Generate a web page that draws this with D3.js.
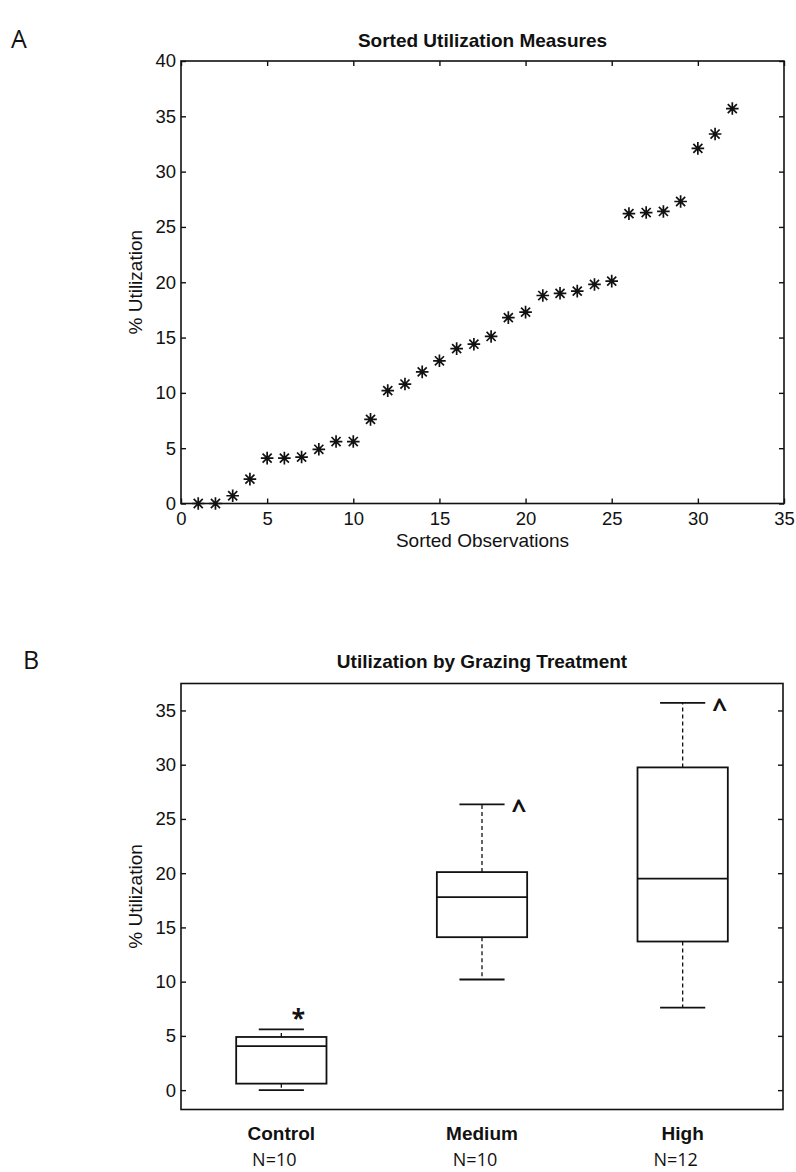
<!DOCTYPE html>
<html>
<head>
<meta charset="utf-8">
<script src="https://cdn.jsdelivr.net/npm/d3@7"></script>
<style>
  body { margin: 0; background: #fff; }
  text { font-family: "Liberation Sans", Arial, sans-serif; fill: #111; }
</style>
</head>
<body>
<div id="chart"></div>
<script>
// panel A: sorted utilization values (observation i+1)
const sortedUtil = [0, 0, 0.7, 2.2, 4.1, 4.1, 4.2, 4.9, 5.6, 5.6, 7.6, 10.2, 10.8, 11.9, 12.9, 14.0,
                    14.4, 15.1, 16.8, 17.3, 18.8, 19.0, 19.2, 19.8, 20.1, 26.2, 26.3, 26.4, 27.3, 32.1, 33.4, 35.7];
const xTicksA = [0, 5, 10, 15, 20, 25, 30, 35];
const yTicksA = [0, 5, 10, 15, 20, 25, 30, 35, 40];

// panel B: box plot by grazing treatment
const groups = ["Control", "Medium", "High"];
const groupN = ["N=10", "N=10", "N=12"];
const whiskerLow = [0, 10.2, 7.6];
const q1 = [0.6, 14.1, 13.7];
const median = [4.05, 17.8, 19.5];
const q3 = [4.9, 20.1, 29.75];
const whiskerHigh = [5.6, 26.35, 35.7];
const sigMarks = ["*", "^", "^"];
const yTicksB = [0, 5, 10, 15, 20, 25, 30, 35];

const W = 796, H = 1172;
const svg = d3.select("#chart").append("svg")
    .attr("width", W)
    .attr("height", H);

const plotL = 181, plotR = 784;

// ---------- Panel A ----------
const xA = d3.scaleLinear().domain([0, 35]).range([plotL, plotR]);
const yA = d3.scaleLinear().domain([0, 40]).range([503.5, 61]);

const gA = svg.append("g");

gA.append("g")
    .attr("transform", `translate(0,${yA(0)})`)
    .call(d3.axisBottom(xA).tickValues(xTicksA).tickSize(-5).tickPadding(8))
    .call(g => g.select(".domain").remove());
gA.append("g")
    .attr("transform", `translate(0,${yA(40)})`)
    .call(d3.axisTop(xA).tickValues(xTicksA).tickSize(-5).tickFormat(""))
    .call(g => g.select(".domain").remove());
gA.append("g")
    .attr("transform", `translate(${plotL},0)`)
    .call(d3.axisLeft(yA).tickValues(yTicksA).tickSize(-5).tickPadding(5))
    .call(g => g.select(".domain").remove());
gA.append("g")
    .attr("transform", `translate(${plotR},0)`)
    .call(d3.axisRight(yA).tickValues(yTicksA).tickSize(-5).tickFormat(""))
    .call(g => g.select(".domain").remove());

gA.append("rect")
    .attr("x", xA(0)).attr("y", yA(40))
    .attr("width", xA(35) - xA(0)).attr("height", yA(0) - yA(40))
    .attr("fill", "none").attr("stroke", "#111").attr("stroke-width", 1.6);

const star = r => `M${-r},0L${r},0M0,${-r}L0,${r}M${-r * 0.72},${-r * 0.72}L${r * 0.72},${r * 0.72}M${-r * 0.72},${r * 0.72}L${r * 0.72},${-r * 0.72}`;

gA.selectAll("path.pt")
    .data(sortedUtil)
    .enter()
    .append("path")
    .attr("class", "pt")
    .attr("transform", (d, i) => `translate(${xA(i + 1)},${yA(d)})`)
    .attr("d", star(6.3))
    .attr("stroke", "#111")
    .attr("stroke-width", 1.7)
    .attr("fill", "none");

gA.append("text")
    .attr("x", (plotL + plotR) / 2).attr("y", 47)
    .attr("text-anchor", "middle")
    .style("font-weight", "bold").style("font-size", "19px")
    .text("Sorted Utilization Measures");

gA.append("text")
    .attr("x", (plotL + plotR) / 2).attr("y", 547)
    .attr("text-anchor", "middle")
    .style("font-size", "19px")
    .text("Sorted Observations");

gA.append("text")
    .attr("transform", `translate(142,${(yA(0) + yA(40)) / 2}) rotate(-90)`)
    .attr("text-anchor", "middle")
    .style("font-size", "19px")
    .text("% Utilization");

svg.append("text")
    .attr("x", 11).attr("y", 48)
    .style("font-family", "'Open Sans', sans-serif").style("font-size", "25px")
    .text("A");

// ---------- Panel B ----------
const xB = d3.scaleLinear().domain([0.5, 3.5]).range([plotL, 783]);
const yB = d3.scaleLinear().domain([-1.785, 37.485]).range([1109.5, 683.5]);
const boxW = 0.45, capW = 0.225;

const gB = svg.append("g");

gB.append("g")
    .attr("transform", `translate(${plotL},0)`)
    .call(d3.axisLeft(yB).tickValues(yTicksB).tickSize(-5).tickPadding(5))
    .call(g => g.select(".domain").remove());
gB.append("g")
    .attr("transform", `translate(783,0)`)
    .call(d3.axisRight(yB).tickValues(yTicksB).tickSize(-5).tickFormat(""))
    .call(g => g.select(".domain").remove());

gB.append("rect")
    .attr("x", xB(0.5)).attr("y", yB(37.485))
    .attr("width", xB(3.5) - xB(0.5)).attr("height", yB(-1.785) - yB(37.485))
    .attr("fill", "none").attr("stroke", "#111").attr("stroke-width", 1.6);

const boxes = groups.map((g, i) => ({
    name: g, n: groupN[i], pos: i + 1,
    lo: whiskerLow[i], q1: q1[i], med: median[i], q3: q3[i], hi: whiskerHigh[i], mark: sigMarks[i]
}));

const bx = gB.selectAll("g.box").data(boxes).enter().append("g").attr("class", "box");

// dashed whiskers
bx.append("line")
    .attr("x1", d => xB(d.pos)).attr("x2", d => xB(d.pos))
    .attr("y1", d => yB(d.q3)).attr("y2", d => yB(d.hi))
    .attr("stroke", "#111").attr("stroke-width", 1.3).attr("stroke-dasharray", "4 3");
bx.append("line")
    .attr("x1", d => xB(d.pos)).attr("x2", d => xB(d.pos))
    .attr("y1", d => yB(d.q1)).attr("y2", d => yB(d.lo))
    .attr("stroke", "#111").attr("stroke-width", 1.3).attr("stroke-dasharray", "4 3");
// caps
bx.append("line")
    .attr("x1", d => xB(d.pos - capW / 2)).attr("x2", d => xB(d.pos + capW / 2))
    .attr("y1", d => yB(d.hi)).attr("y2", d => yB(d.hi))
    .attr("stroke", "#111").attr("stroke-width", 1.8);
bx.append("line")
    .attr("x1", d => xB(d.pos - capW / 2)).attr("x2", d => xB(d.pos + capW / 2))
    .attr("y1", d => yB(d.lo)).attr("y2", d => yB(d.lo))
    .attr("stroke", "#111").attr("stroke-width", 1.8);
// box
bx.append("rect")
    .attr("x", d => xB(d.pos - boxW / 2)).attr("width", d => xB(boxW) - xB(0))
    .attr("y", d => yB(d.q3)).attr("height", d => yB(d.q1) - yB(d.q3))
    .attr("fill", "none").attr("stroke", "#111").attr("stroke-width", 1.8);
// median
bx.append("line")
    .attr("x1", d => xB(d.pos - boxW / 2)).attr("x2", d => xB(d.pos + boxW / 2))
    .attr("y1", d => yB(d.med)).attr("y2", d => yB(d.med))
    .attr("stroke", "#111").attr("stroke-width", 1.8);
// significance marks
bx.append("text")
    .attr("x", d => d.mark === "*" ? xB(d.pos) + 17 : xB(d.pos) + 37)
    .attr("y", d => d.mark === "*" ? yB(d.hi) - 2 : yB(d.hi) + 15)
    .attr("text-anchor", "middle")
    .style("font-family", "'Open Sans', sans-serif")
    .style("font-weight", "bold")
    .style("font-size", d => d.mark === "*" ? "25px" : "26px")
    .text(d => d.mark);
// group labels
bx.append("text")
    .attr("x", d => xB(d.pos)).attr("y", 1140)
    .attr("text-anchor", "middle")
    .style("font-weight", "bold").style("font-size", "19px")
    .text(d => d.name);
bx.append("text")
    .attr("x", d => xB(d.pos) - 7).attr("y", 1166)
    .attr("text-anchor", "middle")
    .style("font-family", "'Open Sans', sans-serif").style("font-size", "18px")
    .text(d => d.n);

gB.append("text")
    .attr("x", (plotL + 783) / 2).attr("y", 668)
    .attr("text-anchor", "middle")
    .style("font-weight", "bold").style("font-size", "19px")
    .text("Utilization by Grazing Treatment");

gB.append("text")
    .attr("transform", `translate(142,${(yB(-1.785) + yB(37.485)) / 2}) rotate(-90)`)
    .attr("text-anchor", "middle")
    .style("font-size", "19px")
    .text("% Utilization");

svg.append("text")
    .attr("x", 23).attr("y", 669)
    .style("font-family", "'Open Sans', sans-serif").style("font-size", "25px")
    .text("B");

svg.selectAll(".tick text").style("font-size", "18.5px").attr("fill", "#111");
svg.selectAll(".tick line").attr("stroke", "#111").attr("stroke-width", 1.4);
</script>
</body>
</html>
